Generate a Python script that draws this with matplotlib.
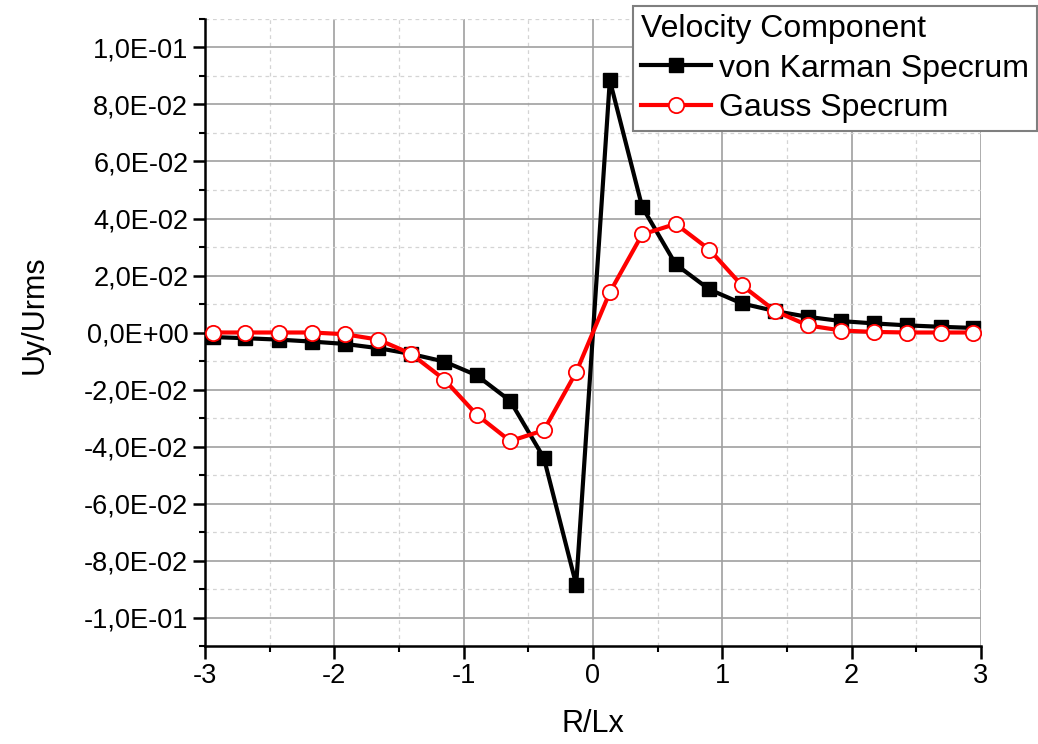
import numpy as np
import matplotlib
matplotlib.use('Agg')
import matplotlib.pyplot as plt
from matplotlib.ticker import MultipleLocator, FuncFormatter

plt.rcParams['font.family'] = ['Liberation Sans', 'DejaVu Sans']
plt.rcParams['axes.unicode_minus'] = False

# data
r_lx = [-2.94, -2.69, -2.43, -2.17, -1.92, -1.66, -1.41, -1.15, -0.90, -0.64, -0.38, -0.13,
        0.13, 0.38, 0.64, 0.90, 1.15, 1.41, 1.66, 1.92, 2.17, 2.43, 2.69, 2.94]
karman = [-0.0016, -0.0020, -0.0025, -0.0032, -0.0040, -0.0055, -0.0075, -0.0102, -0.0150, -0.0240,
          -0.0440, -0.0885, 0.0885, 0.0441, 0.0239, 0.0151, 0.0102, 0.0075, 0.0055, 0.0040,
          0.0032, 0.0025, 0.0020, 0.0016]
gauss = [0.0000, 0.0000, 0.0000, 0.0000, -0.0006, -0.0025, -0.0074, -0.0165, -0.0288, -0.0381,
         -0.0343, -0.0139, 0.0141, 0.0344, 0.0381, 0.0291, 0.0166, 0.0075, 0.0025, 0.0007,
         0.0002, 0.0000, 0.0000, 0.0000]
labels = ['von Karman Specrum', 'Gauss Specrum']


def sci_comma(v, pos):
    if abs(v) < 1e-12:
        v = 0.0
    return '{:.1E}'.format(v).replace('.', ',')


fig = plt.figure(figsize=(10.38, 7.44), dpi=100)
ax = fig.add_axes([205 / 1038, 98 / 744, 776 / 1038, 627 / 744])

ax.plot(r_lx, karman, color='black', lw=3.0, marker='s', ms=10,
        mfc='black', mec='black', label=labels[0], zorder=3)
ax.plot(r_lx, gauss, color='red', lw=3.0, marker='o', ms=11,
        mfc='white', mec='red', mew=1.3, label=labels[1], zorder=4)

ax.set_xlim(-3, 3)
ax.set_ylim(-0.11, 0.11)
ax.xaxis.set_major_locator(MultipleLocator(1))
ax.xaxis.set_minor_locator(MultipleLocator(0.5))
ax.set_yticks(np.round(np.arange(-0.1, 0.1001, 0.02), 3))
ax.yaxis.set_minor_locator(MultipleLocator(0.01))
ax.yaxis.set_major_formatter(FuncFormatter(sci_comma))

# grid
ax.set_axisbelow(True)
ax.grid(which='major', color='#a0a0a0', lw=1.2, ls='-')
ax.grid(which='minor', color='#d4d4d4', lw=0.9, ls=(0, (3, 3)))

# spines and ticks
for s in ['top', 'right']:
    ax.spines[s].set_visible(False)
for s in ['left', 'bottom']:
    ax.spines[s].set_linewidth(1.8)
ax.tick_params(which='major', direction='out', length=9, width=1.8, labelsize=19.5, pad=3)
ax.tick_params(which='minor', direction='out', length=4, width=1.5)

ax.set_xlabel('R/Lx', fontsize=22)
ax.set_ylabel('Uy/Urms', fontsize=22)
ax.xaxis.set_label_coords(0.5, -0.1)
ax.yaxis.set_label_coords(-0.2, 0.528)

leg = ax.legend(title='Velocity Component', loc='upper right',
                bbox_to_anchor=(1037 / 1038, 1 - 6 / 744), bbox_transform=fig.transFigure,
                fontsize=23, title_fontsize=23, alignment='left', numpoints=1,
                handlelength=2.2, handletextpad=0.25, labelspacing=0.3,
                borderpad=0.25, borderaxespad=0, fancybox=False, framealpha=1,
                edgecolor='#7f7f7f')
leg.get_frame().set_linewidth(1.5)

fig.savefig('out.png', dpi=100)
